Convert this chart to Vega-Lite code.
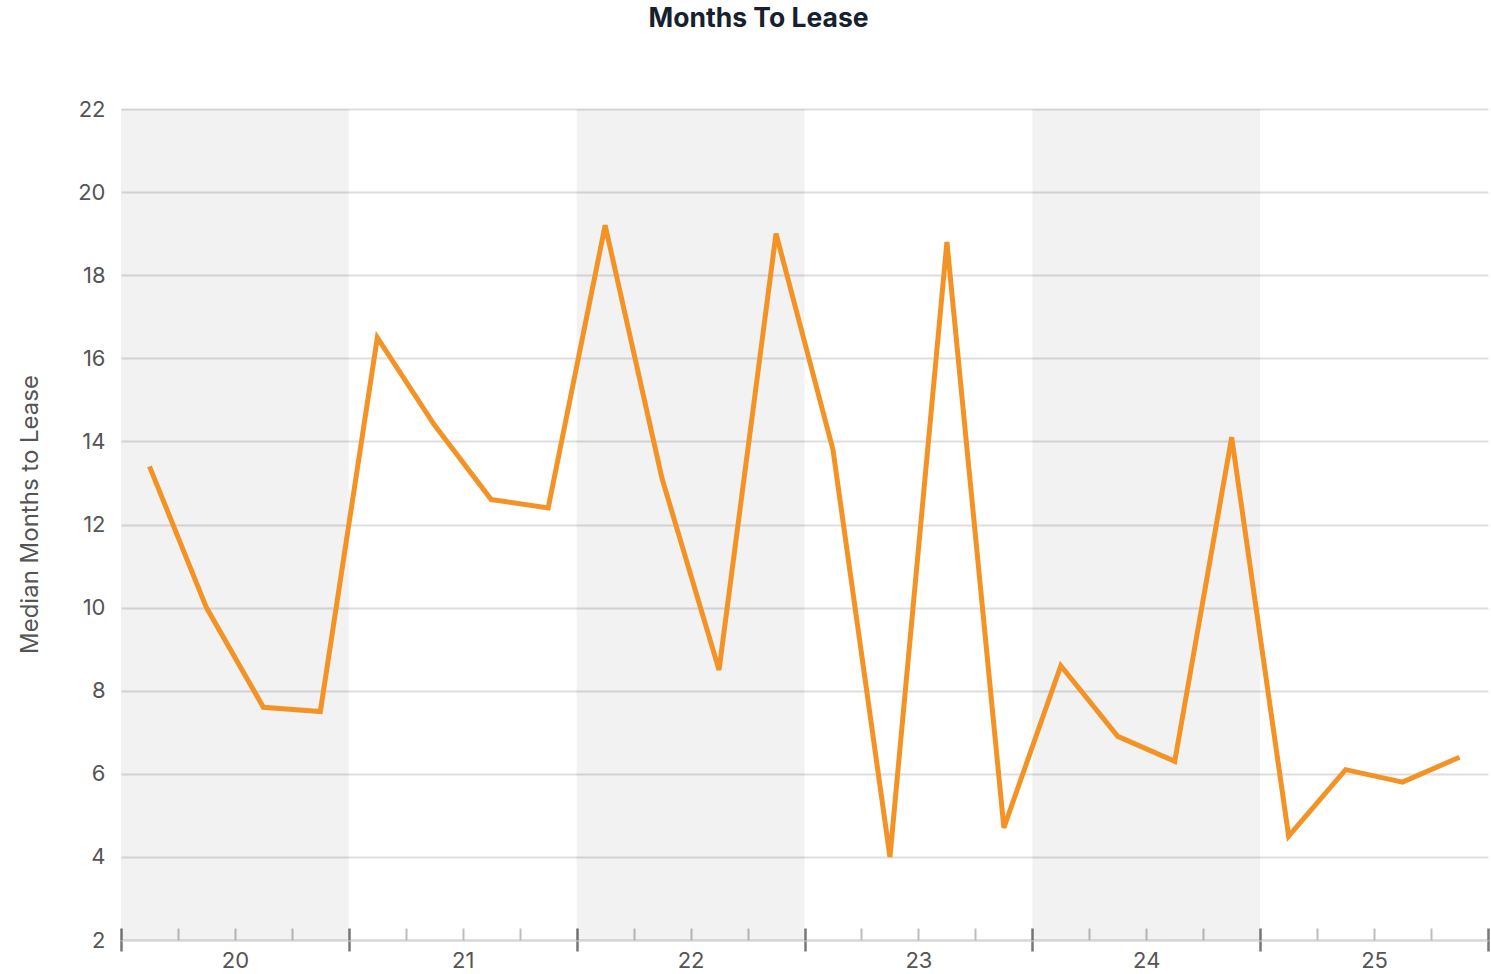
{
  "$schema": "https://vega.github.io/schema/vega-lite/v6.json",
  "autosize": "none",
  "width": 1367,
  "height": 831,
  "padding": {"left": 121, "top": 109, "right": 3, "bottom": 34},
  "background": "white",
  "title": {
    "text": "Months To Lease",
    "font": "Inter",
    "fontSize": 26.5,
    "fontWeight": "bold",
    "color": "#17202e",
    "anchor": "middle",
    "dx": -46,
    "offset": 66
  },
  "config": {
    "font": "Inter",
    "view": {"stroke": null}
  },
  "datasets": {
    "bands": [
      {"start": 0, "end": 4},
      {"start": 8, "end": 12},
      {"start": 16, "end": 20}
    ],
    "series": [
      {"quarter": "Q1 2020", "pos": 0.5, "months": 13.4},
      {"quarter": "Q2 2020", "pos": 1.5, "months": 10.0},
      {"quarter": "Q3 2020", "pos": 2.5, "months": 7.6},
      {"quarter": "Q4 2020", "pos": 3.5, "months": 7.5},
      {"quarter": "Q1 2021", "pos": 4.5, "months": 16.5},
      {"quarter": "Q2 2021", "pos": 5.5, "months": 14.4},
      {"quarter": "Q3 2021", "pos": 6.5, "months": 12.6},
      {"quarter": "Q4 2021", "pos": 7.5, "months": 12.4},
      {"quarter": "Q1 2022", "pos": 8.5, "months": 19.2},
      {"quarter": "Q2 2022", "pos": 9.5, "months": 13.1},
      {"quarter": "Q3 2022", "pos": 10.5, "months": 8.5},
      {"quarter": "Q4 2022", "pos": 11.5, "months": 19.0},
      {"quarter": "Q1 2023", "pos": 12.5, "months": 13.8},
      {"quarter": "Q2 2023", "pos": 13.5, "months": 4.0},
      {"quarter": "Q3 2023", "pos": 14.5, "months": 18.8},
      {"quarter": "Q4 2023", "pos": 15.5, "months": 4.7},
      {"quarter": "Q1 2024", "pos": 16.5, "months": 8.6},
      {"quarter": "Q2 2024", "pos": 17.5, "months": 6.9},
      {"quarter": "Q3 2024", "pos": 18.5, "months": 6.3},
      {"quarter": "Q4 2024", "pos": 19.5, "months": 14.1},
      {"quarter": "Q1 2025", "pos": 20.5, "months": 4.5},
      {"quarter": "Q2 2025", "pos": 21.5, "months": 6.1},
      {"quarter": "Q3 2025", "pos": 22.5, "months": 5.8},
      {"quarter": "Q4 2025", "pos": 23.5, "months": 6.4}
    ]
  },
  "resolve": {"axis": {"x": "independent"}},
  "layer": [
    {
      "data": {"name": "bands"},
      "mark": {"type": "rect", "color": "#000000", "opacity": 0.052},
      "encoding": {
        "x": {
          "field": "start",
          "type": "quantitative",
          "scale": {"domain": [0, 24], "nice": false, "zero": false},
          "axis": {
            "orient": "bottom",
            "title": null,
            "values": [0, 2, 4, 6, 8, 10, 12, 14, 16, 18, 20, 22, 24],
            "grid": false,
            "domain": true,
            "domainColor": "#d6d6d6",
            "domainWidth": 2,
            "tickSize": 11,
            "tickWidth": 2.5,
            "tickColor": "#777777",
            "tickOpacity": {"condition": {"test": "datum.value % 4 == 0", "value": 1}, "value": 0},
            "labelExpr": "datum.value % 4 == 2 ? toString(20 + floor(datum.value / 4)) : ''",
            "labelFont": "Inter",
            "labelFontSize": 22,
            "labelColor": "#555555",
            "labelPadding": -1,
            "labelFlush": false,
            "labelOverlap": false
          }
        },
        "x2": {"field": "end"}
      }
    },
    {
      "data": {"name": "series"},
      "mark": {"type": "line", "color": "#F39325", "strokeWidth": 5, "strokeJoin": "miter"},
      "encoding": {
        "x": {
          "field": "pos",
          "type": "quantitative",
          "axis": {
            "orient": "bottom",
            "title": null,
            "values": [0, 1, 2, 3, 4, 5, 6, 7, 8, 9, 10, 11, 12, 13, 14, 15, 16, 17, 18, 19, 20, 21, 22, 23, 24],
            "grid": false,
            "domain": false,
            "labels": false,
            "tickSize": -12,
            "tickWidth": {"condition": {"test": "datum.value % 4 == 0", "value": 2.5}, "value": 2},
            "tickColor": {"condition": {"test": "datum.value % 4 == 0", "value": "#777777"}, "value": "#bdbdbd"}
          }
        },
        "y": {
          "field": "months",
          "type": "quantitative",
          "scale": {"domain": [2, 22], "nice": false, "zero": false},
          "axis": {
            "title": "Median Months to Lease",
            "titleFont": "Inter",
            "titleFontSize": 24,
            "titleFontWeight": "normal",
            "titleColor": "#555555",
            "titlePadding": 35,
            "titleY": 405,
            "values": [2, 4, 6, 8, 10, 12, 14, 16, 18, 20, 22],
            "domain": false,
            "ticks": false,
            "labelFont": "Inter",
            "labelFontSize": 22,
            "labelColor": "#555555",
            "labelPadding": 16,
            "grid": true,
            "gridColor": "#dedede",
            "gridWidth": 2
          }
        }
      }
    }
  ]
}
